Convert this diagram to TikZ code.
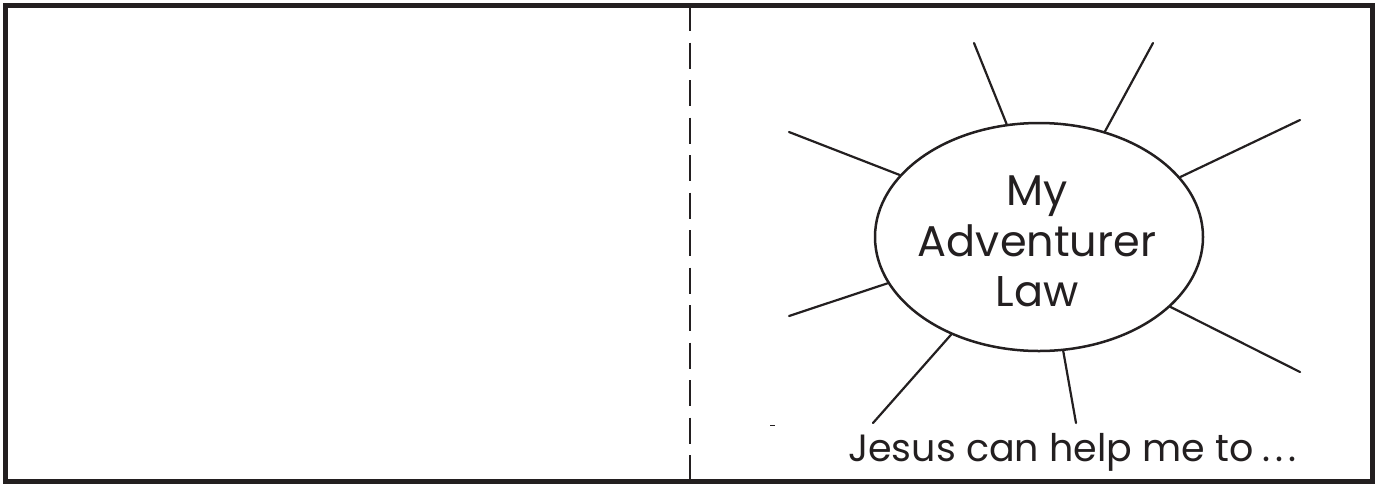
\documentclass[tikz,border=0pt]{standalone}
\usepackage{fontspec}
\setmainfont{Poppins}
\usetikzlibrary{shapes.geometric}
\definecolor{ink}{RGB}{35,31,32}
\begin{document}
\begin{tikzpicture}[x=1pt,y=-1pt,
  frame/.style={draw=ink, line width=5pt},
  fold/.style={draw=ink, line width=2.6pt, dash pattern=on 26pt off 11.5pt},
  ray/.style={draw=ink, line width=2.2pt, line cap=round},
  sunshape/.style={draw=ink, line width=2.5pt, ellipse, minimum width=328pt, minimum height=228pt, inner sep=0pt},
  bigtext/.style={font=\fontsize{43}{50.5}\selectfont, text=ink, align=center, inner sep=0pt},
  linetext/.style={font=\fontsize{38}{44}\selectfont, text=ink, inner sep=0pt}]
\useasboundingbox (0,0) rectangle (1375,483);
\fill[white] (0,0) rectangle (1375,483);
% frame and fold line
\coordinate (tl) at (5,5);
\coordinate (br) at (1372,481);
\draw[frame] (tl) rectangle (br);
\coordinate (foldtop) at (690,5);
\coordinate (foldbot) at (690,481);
\draw[fold] (foldtop) -- (foldbot);
% sun
\node[sunshape] (sun) at (1039,237) {};
\node[bigtext] (title) at (1037,241.5) {My\\Adventurer\\Law};
\coordinate (e1) at (974,43);
\coordinate (e2) at (1153,43);
\coordinate (e3) at (1300,120);
\coordinate (e4) at (789,132);
\coordinate (e5) at (789,316);
\coordinate (e6) at (873,423);
\coordinate (e7) at (1076,423);
\coordinate (e8) at (1300,372);
\draw[ray] (sun.106.6) -- (e1);
\draw[ray] (sun.58.2) -- (e2);
\draw[ray] (sun.23) -- (e3);
\draw[ray] (sun.156.8) -- (e4);
\draw[ray] (sun.197.7) -- (e5);
\draw[ray] (sun.228.7) -- (e6);
\draw[ray] (sun.282.5) -- (e7);
\draw[ray] (sun.332.9) -- (e8);
% stray mark
\coordinate (m1) at (770,425.5);
\coordinate (m2) at (775,425.5);
\draw[ink, line width=1.5pt] (m1) -- (m2);
% caption
\node[linetext, anchor=base west] (caption) at (848,461) {Jesus can help me to{\spaceskip=9pt\relax{} .}{\spaceskip=1.5pt\relax{} . .}};
\end{tikzpicture}
\end{document}
